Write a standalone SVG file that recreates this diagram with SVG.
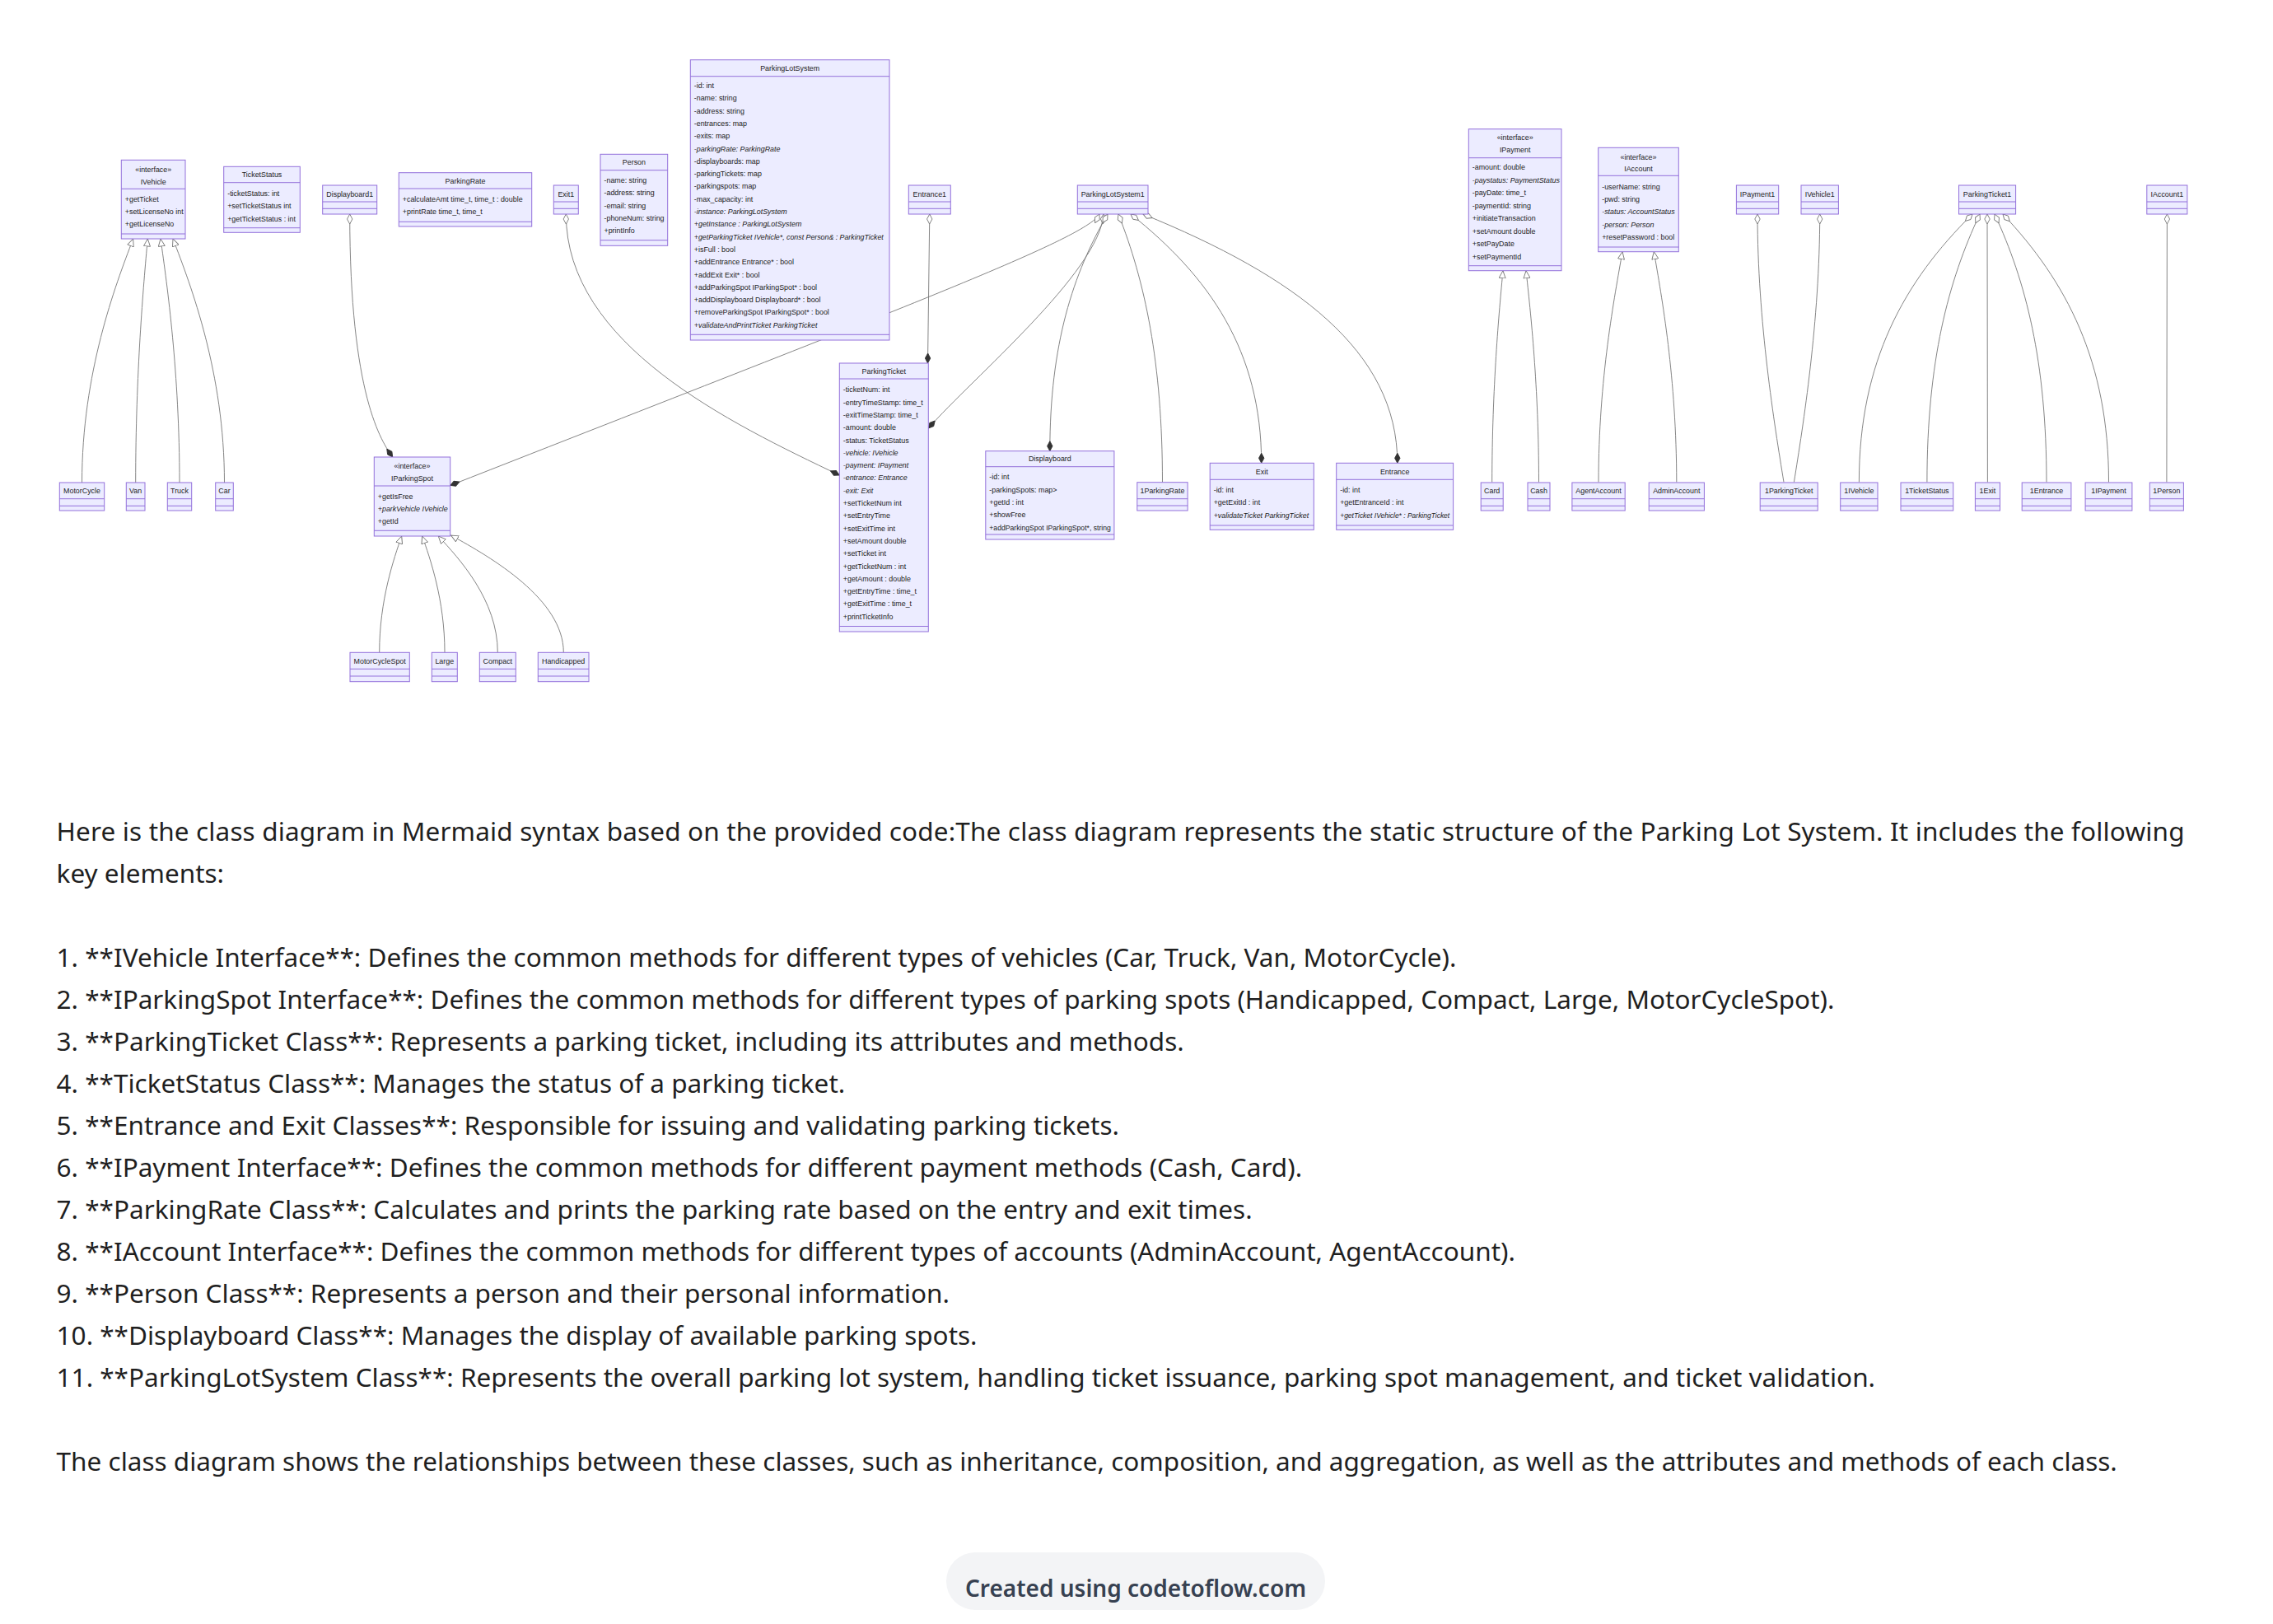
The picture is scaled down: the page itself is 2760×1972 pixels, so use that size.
<svg xmlns="http://www.w3.org/2000/svg" width="2760" height="1972" viewBox="0 0 2760 1972">
<defs>
<style>
.n rect{fill:#ECECFF;stroke:#9370DB;stroke-width:1}
.n line{stroke:#9370DB;stroke-width:1}
.n text{font-family:"Liberation Sans",Arial,sans-serif;font-size:8.9px;fill:#222;dominant-baseline:central}
.n text.c{text-anchor:middle}
.n text.it{font-style:italic}
#edges path{fill:none;stroke:#777;stroke-width:0.9}
.p{font-family:"Noto Sans","Open Sans",sans-serif;font-size:31.5px;fill:#1f1f1f}
</style>
<marker id="tri" viewBox="0 0 10 9" refX="9.5" refY="4.5" markerWidth="10" markerHeight="9" markerUnits="userSpaceOnUse" orient="auto"><path d="M0.5,0.5 L9.5,4.5 L0.5,8.5 Z" fill="#fff" stroke="#777" stroke-width="0.9"/></marker>
<marker id="odia" viewBox="0 0 13 8" refX="0.5" refY="4" markerWidth="13" markerHeight="8" markerUnits="userSpaceOnUse" orient="auto"><path d="M0.5,4 L6.5,0.8 L12.5,4 L6.5,7.2 Z" fill="#fff" stroke="#777" stroke-width="0.9"/></marker>
<marker id="fdia" viewBox="0 0 13 8" refX="12.5" refY="4" markerWidth="13" markerHeight="8" markerUnits="userSpaceOnUse" orient="auto"><path d="M0.5,4 L6.5,0.8 L12.5,4 L6.5,7.2 Z" fill="#333" stroke="#333" stroke-width="0.9"/></marker>
</defs>
<rect width="2760" height="1972" fill="#fff"/>

<g id="edges">
<path d="M99.5,586 C99.5,453 139.9,347 161.7,290" marker-end="url(#tri)"/>
<path d="M164.7,586 C164.7,453 174.2,347 179.3,290" marker-end="url(#tri)"/>
<path d="M218,586 C218,453 203.1,347 195,290" marker-end="url(#tri)"/>
<path d="M272.5,586 C272.5,453 231.9,347 210,290" marker-end="url(#tri)"/>
<path d="M460.7,792.3 C460.7,728.7 478.3,678.2 487.7,651" marker-end="url(#tri)"/>
<path d="M540,792.3 C540,728.7 522.3,678.2 512.7,651" marker-end="url(#tri)"/>
<path d="M604.3,792.3 C604.3,728.7 557.5,678.2 532.3,651" marker-end="url(#tri)"/>
<path d="M684.3,792.3 C684.3,728 597,677 547.5,650" marker-end="url(#tri)"/>
<path d="M1811.7,585.5 C1811.7,470 1820.3,378.2 1825,328.7" marker-end="url(#tri)"/>
<path d="M1868.5,585.5 C1868.5,470 1858.5,378.2 1853,328.7" marker-end="url(#tri)"/>
<path d="M1941,585.5 C1941,459.3 1960.7,359.5 1970,305.7" marker-end="url(#tri)"/>
<path d="M2035.8,585.5 C2035.8,459.3 2017.6,359.5 2008.3,305.7" marker-end="url(#tri)"/>
<path d="M424.7,260 C424.7,481 463.7,536.5 476.7,555" marker-start="url(#odia)" marker-end="url(#fdia)"/>
<path d="M687.3,260 C687.3,418.5 886.5,513.6 1019.3,577" marker-start="url(#odia)" marker-end="url(#fdia)"/>
<path d="M1128.8,260 L1126.5,441" marker-start="url(#odia)" marker-end="url(#fdia)"/>
<path d="M1335,260 C1320,290 1080,380 546.7,589.5" marker-start="url(#odia)" marker-end="url(#fdia)"/>
<path d="M1340,260 C1335,330 1180,460 1127.3,520" marker-start="url(#odia)" marker-end="url(#fdia)"/>
<path d="M1345,260 C1303,332 1274.8,418 1274.8,547.7" marker-start="url(#odia)" marker-end="url(#fdia)"/>
<path d="M1358,260 C1390,341 1411.5,439.5 1411.5,585.7" marker-start="url(#odia)"/>
<path d="M1373,260 C1468.2,335.6 1531.7,426.2 1531.7,562.3" marker-start="url(#odia)" marker-end="url(#fdia)"/>
<path d="M1388,260 C1573.3,335.6 1696.8,426.2 1696.8,562.3" marker-start="url(#odia)" marker-end="url(#fdia)"/>
<path d="M2134,260 C2134,390 2154.8,516.8 2166,585.5" marker-start="url(#odia)"/>
<path d="M2209.7,260 C2209.7,390 2189.4,516.8 2178.4,585.5" marker-start="url(#odia)"/>
<path d="M2395,260 C2312.4,341.4 2257.4,439 2257.4,585.5" marker-start="url(#odia)"/>
<path d="M2404,260 C2365.6,341.4 2339.9,439 2339.9,585.5" marker-start="url(#odia)"/>
<path d="M2413,260 L2413.4,585.5" marker-start="url(#odia)"/>
<path d="M2422,260 C2459.8,341.4 2485,439 2485,585.5" marker-start="url(#odia)"/>
<path d="M2432,260 C2509,341.4 2560.5,439 2560.5,585.5" marker-start="url(#odia)"/>
<path d="M2631.4,260 L2630.9,585.5" marker-start="url(#odia)"/>
</g>

<g id="IVehicle" class="n"><rect x="147.3" y="194.3" width="77.7" height="95.7"/><line x1="147.3" y1="229.3" x2="225" y2="229.3"/><line x1="147.3" y1="284" x2="225" y2="284"/>
<text class="c" x="186.2" y="205.7">«interface»</text><text class="c" x="186.2" y="220.7">IVehicle</text>
<text x="151.8" y="241.7">+getTicket</text><text x="151.8" y="257">+setLicenseNo int</text><text x="151.8" y="272.3">+getLicenseNo</text></g>

<g id="TicketStatus" class="n"><rect x="271.7" y="202.3" width="92.6" height="80"/><line x1="271.7" y1="221.7" x2="364.3" y2="221.7"/><line x1="271.7" y1="276.7" x2="364.3" y2="276.7"/>
<text class="c" x="318" y="212">TicketStatus</text>
<text x="276.2" y="235">-ticketStatus: int</text><text x="276.2" y="250.3">+setTicketStatus int</text><text x="276.2" y="265.6">+getTicketStatus : int</text></g>

<g id="Displayboard1" class="n"><rect x="391.7" y="225" width="66" height="35"/><line x1="391.7" y1="245" x2="457.7" y2="245"/><line x1="391.7" y1="253.3" x2="457.7" y2="253.3"/><text class="c" x="424.7" y="235.5">Displayboard1</text></g>

<g id="ParkingRate" class="n"><rect x="484.3" y="209.7" width="161.4" height="65.3"/><line x1="484.3" y1="229" x2="645.7" y2="229"/><line x1="484.3" y1="269.3" x2="645.7" y2="269.3"/>
<text class="c" x="565" y="219.5">ParkingRate</text>
<text x="488.8" y="241.7">+calculateAmt time_t, time_t : double</text><text x="488.8" y="257">+printRate time_t, time_t</text></g>

<g id="Exit1" class="n"><rect x="672.3" y="225" width="30" height="35"/><line x1="672.3" y1="245" x2="702.3" y2="245"/><line x1="672.3" y1="253.3" x2="702.3" y2="253.3"/><text class="c" x="687.3" y="235.5">Exit1</text></g>

<g id="Person" class="n"><rect x="729" y="187.3" width="81.7" height="111"/><line x1="729" y1="206.7" x2="810.7" y2="206.7"/><line x1="729" y1="291.7" x2="810.7" y2="291.7"/>
<text class="c" x="769.9" y="197.3">Person</text>
<text x="733.5" y="219">-name: string</text><text x="733.5" y="234.3">-address: string</text><text x="733.5" y="249.6">-email: string</text><text x="733.5" y="264.9">-phoneNum: string</text><text x="733.5" y="280.2">+printInfo</text></g>

<g id="ParkingLotSystem" class="n"><rect x="838.3" y="72.7" width="241.7" height="340.3"/><line x1="838.3" y1="92.7" x2="1080" y2="92.7"/><line x1="838.3" y1="406.3" x2="1080" y2="406.3"/>
<text class="c" x="959.2" y="83">ParkingLotSystem</text>
<text x="842.8" y="104">-id: int</text>
<text x="842.8" y="119.3">-name: string</text>
<text x="842.8" y="134.6">-address: string</text>
<text x="842.8" y="149.9">-entrances: map</text>
<text x="842.8" y="165.2">-exits: map</text>
<text class="it" x="842.8" y="180.5">-parkingRate: ParkingRate</text>
<text x="842.8" y="195.8">-displayboards: map</text>
<text x="842.8" y="211.1">-parkingTickets: map</text>
<text x="842.8" y="226.4">-parkingspots: map</text>
<text x="842.8" y="241.7">-max_capacity: int</text>
<text class="it" x="842.8" y="257">-instance: ParkingLotSystem</text>
<text class="it" x="842.8" y="272.3">+getInstance : ParkingLotSystem</text>
<text class="it" x="842.8" y="287.6" textLength="230" lengthAdjust="spacingAndGlyphs">+getParkingTicket IVehicle*, const Person&amp; : ParkingTicket</text>
<text x="842.8" y="302.9">+isFull : bool</text>
<text x="842.8" y="318.2">+addEntrance Entrance* : bool</text>
<text x="842.8" y="333.5">+addExit Exit* : bool</text>
<text x="842.8" y="348.8">+addParkingSpot IParkingSpot* : bool</text>
<text x="842.8" y="364.1">+addDisplayboard Displayboard* : bool</text>
<text x="842.8" y="379.4">+removeParkingSpot IParkingSpot* : bool</text>
<text class="it" x="842.8" y="394.7">+validateAndPrintTicket ParkingTicket</text></g>

<g id="Entrance1" class="n"><rect x="1103.3" y="225" width="51" height="35"/><line x1="1103.3" y1="245" x2="1154.3" y2="245"/><line x1="1103.3" y1="253.3" x2="1154.3" y2="253.3"/><text class="c" x="1128.8" y="235.5">Entrance1</text></g>

<g id="ParkingLotSystem1" class="n"><rect x="1308.3" y="225" width="85.7" height="35"/><line x1="1308.3" y1="245" x2="1394" y2="245"/><line x1="1308.3" y1="253.3" x2="1394" y2="253.3"/><text class="c" x="1351.2" y="235.5">ParkingLotSystem1</text></g>

<g id="ParkingTicket" class="n"><rect x="1019.3" y="441" width="108" height="326"/><line x1="1019.3" y1="460" x2="1127.3" y2="460"/><line x1="1019.3" y1="760.5" x2="1127.3" y2="760.5"/>
<text class="c" x="1073.3" y="451">ParkingTicket</text>
<text x="1023.8" y="473.3">-ticketNum: int</text>
<text x="1023.8" y="488.6">-entryTimeStamp: time_t</text>
<text x="1023.8" y="503.9">-exitTimeStamp: time_t</text>
<text x="1023.8" y="519.2">-amount: double</text>
<text x="1023.8" y="534.5">-status: TicketStatus</text>
<text class="it" x="1023.8" y="549.8">-vehicle: IVehicle</text>
<text class="it" x="1023.8" y="565.1">-payment: IPayment</text>
<text class="it" x="1023.8" y="580.4">-entrance: Entrance</text>
<text class="it" x="1023.8" y="595.7">-exit: Exit</text>
<text x="1023.8" y="611">+setTicketNum int</text>
<text x="1023.8" y="626.3">+setEntryTime</text>
<text x="1023.8" y="641.6">+setExitTime int</text>
<text x="1023.8" y="656.9">+setAmount double</text>
<text x="1023.8" y="672.2">+setTicket int</text>
<text x="1023.8" y="687.5">+getTicketNum : int</text>
<text x="1023.8" y="702.8">+getAmount : double</text>
<text x="1023.8" y="718.1">+getEntryTime : time_t</text>
<text x="1023.8" y="733.4">+getExitTime : time_t</text>
<text x="1023.8" y="748.7">+printTicketInfo</text></g>

<g id="Displayboard" class="n"><rect x="1196.8" y="547.7" width="156.1" height="107.3"/><line x1="1196.8" y1="566.7" x2="1352.9" y2="566.7"/><line x1="1196.8" y1="649" x2="1352.9" y2="649"/>
<text class="c" x="1274.85" y="557.3">Displayboard</text>
<text x="1201.3" y="579.3">-id: int</text><text x="1201.3" y="594.6">-parkingSpots: map&gt;</text><text x="1201.3" y="609.9">+getId : int</text><text x="1201.3" y="625.2">+showFree</text><text x="1201.3" y="640.5" textLength="147.5" lengthAdjust="spacingAndGlyphs">+addParkingSpot IParkingSpot*, string</text></g>

<g id="1ParkingRate" class="n"><rect x="1380.8" y="585.7" width="61.3" height="34.3"/><line x1="1380.8" y1="605.7" x2="1442.1" y2="605.7"/><line x1="1380.8" y1="614" x2="1442.1" y2="614"/><text class="c" x="1411.45" y="596">1ParkingRate</text></g>

<g id="Exit" class="n"><rect x="1469.2" y="562.3" width="126.1" height="81"/><line x1="1469.2" y1="582.3" x2="1595.3" y2="582.3"/><line x1="1469.2" y1="638" x2="1595.3" y2="638"/>
<text class="c" x="1532.25" y="572.5">Exit</text>
<text x="1473.7" y="595">-id: int</text><text x="1473.7" y="610.3">+getExitId : int</text><text class="it" x="1473.7" y="625.6">+validateTicket ParkingTicket</text></g>

<g id="Entrance" class="n"><rect x="1622.7" y="562.3" width="141.9" height="81"/><line x1="1622.7" y1="582.3" x2="1764.6" y2="582.3"/><line x1="1622.7" y1="638" x2="1764.6" y2="638"/>
<text class="c" x="1693.65" y="572.5">Entrance</text>
<text x="1627.2" y="595">-id: int</text><text x="1627.2" y="610.3">+getEntranceId : int</text><text class="it" x="1627.2" y="625.6" textLength="133" lengthAdjust="spacingAndGlyphs">+getTicket IVehicle* : ParkingTicket</text></g>

<g id="IParkingSpot" class="n"><rect x="454.3" y="555" width="92.4" height="96"/><line x1="454.3" y1="590" x2="546.7" y2="590"/><line x1="454.3" y1="644.3" x2="546.7" y2="644.3"/>
<text class="c" x="500.5" y="566">«interface»</text><text class="c" x="500.5" y="580.7">IParkingSpot</text>
<text x="458.8" y="602.7">+getIsFree</text><text class="it" x="458.8" y="617.9">+parkVehicle IVehicle</text><text x="458.8" y="633.1">+getId</text></g>

<g id="IPayment" class="n"><rect x="1783.3" y="156.7" width="112.7" height="172"/><line x1="1783.3" y1="191.7" x2="1896" y2="191.7"/><line x1="1783.3" y1="322.7" x2="1896" y2="322.7"/>
<text class="c" x="1839.65" y="166.7">«interface»</text><text class="c" x="1839.65" y="182.3">IPayment</text>
<text x="1787.8" y="203.3">-amount: double</text>
<text class="it" x="1787.8" y="218.8">-paystatus: PaymentStatus</text>
<text x="1787.8" y="234.3">-payDate: time_t</text>
<text x="1787.8" y="249.7">-paymentId: string</text>
<text x="1787.8" y="265.2">+initiateTransaction</text>
<text x="1787.8" y="280.7">+setAmount double</text>
<text x="1787.8" y="296.2">+setPayDate</text>
<text x="1787.8" y="311.7">+setPaymentId</text></g>

<g id="IAccount" class="n"><rect x="1940.7" y="179.3" width="97.6" height="126.4"/><line x1="1940.7" y1="213.3" x2="2038.3" y2="213.3"/><line x1="1940.7" y1="300" x2="2038.3" y2="300"/>
<text class="c" x="1989.5" y="190.7">«interface»</text><text class="c" x="1989.5" y="205">IAccount</text>
<text x="1945.2" y="226.7">-userName: string</text>
<text x="1945.2" y="241.9">-pwd: string</text>
<text class="it" x="1945.2" y="257.2">-status: AccountStatus</text>
<text class="it" x="1945.2" y="272.5">-person: Person</text>
<text x="1945.2" y="287.7">+resetPassword : bool</text></g>

<g id="IPayment1" class="n"><rect x="2108.4" y="225" width="51.3" height="35"/><line x1="2108.4" y1="245" x2="2159.7" y2="245"/><line x1="2108.4" y1="253.3" x2="2159.7" y2="253.3"/><text class="c" x="2134.05" y="235.5">IPayment1</text></g>
<g id="IVehicle1" class="n"><rect x="2187" y="225" width="45.4" height="35"/><line x1="2187" y1="245" x2="2232.4" y2="245"/><line x1="2187" y1="253.3" x2="2232.4" y2="253.3"/><text class="c" x="2209.7" y="235.5">IVehicle1</text></g>
<g id="ParkingTicket1" class="n"><rect x="2378.5" y="225" width="69.1" height="35"/><line x1="2378.5" y1="245" x2="2447.6" y2="245"/><line x1="2378.5" y1="253.3" x2="2447.6" y2="253.3"/><text class="c" x="2413.05" y="235.5">ParkingTicket1</text></g>
<g id="IAccount1" class="n"><rect x="2606.8" y="225" width="49.1" height="35"/><line x1="2606.8" y1="245" x2="2655.9" y2="245"/><line x1="2606.8" y1="253.3" x2="2655.9" y2="253.3"/><text class="c" x="2631.35" y="235.5">IAccount1</text></g>

<g id="MotorCycle" class="n"><rect x="72.3" y="586" width="54.4" height="34"/><line x1="72.3" y1="605.7" x2="126.7" y2="605.7"/><line x1="72.3" y1="614.3" x2="126.7" y2="614.3"/><text class="c" x="99.5" y="596">MotorCycle</text></g>
<g id="Van" class="n"><rect x="153.3" y="586" width="22.7" height="34"/><line x1="153.3" y1="605.7" x2="176" y2="605.7"/><line x1="153.3" y1="614.3" x2="176" y2="614.3"/><text class="c" x="164.65" y="596">Van</text></g>
<g id="Truck" class="n"><rect x="203.3" y="586" width="29.4" height="34"/><line x1="203.3" y1="605.7" x2="232.7" y2="605.7"/><line x1="203.3" y1="614.3" x2="232.7" y2="614.3"/><text class="c" x="218" y="596">Truck</text></g>
<g id="Car" class="n"><rect x="261.7" y="586" width="21.6" height="34"/><line x1="261.7" y1="605.7" x2="283.3" y2="605.7"/><line x1="261.7" y1="614.3" x2="283.3" y2="614.3"/><text class="c" x="272.5" y="596">Car</text></g>
<g id="Card" class="n"><rect x="1798.2" y="586" width="27" height="34"/><line x1="1798.2" y1="605.7" x2="1825.2" y2="605.7"/><line x1="1798.2" y1="614.3" x2="1825.2" y2="614.3"/><text class="c" x="1811.7" y="596">Card</text></g>
<g id="Cash" class="n"><rect x="1855" y="586" width="27" height="34"/><line x1="1855" y1="605.7" x2="1882" y2="605.7"/><line x1="1855" y1="614.3" x2="1882" y2="614.3"/><text class="c" x="1868.5" y="596">Cash</text></g>
<g id="AgentAccount" class="n"><rect x="1908.9" y="586" width="64.3" height="34"/><line x1="1908.9" y1="605.7" x2="1973.2" y2="605.7"/><line x1="1908.9" y1="614.3" x2="1973.2" y2="614.3"/><text class="c" x="1941" y="596">AgentAccount</text></g>
<g id="AdminAccount" class="n"><rect x="2002.2" y="586" width="67.2" height="34"/><line x1="2002.2" y1="605.7" x2="2069.4" y2="605.7"/><line x1="2002.2" y1="614.3" x2="2069.4" y2="614.3"/><text class="c" x="2035.8" y="596">AdminAccount</text></g>
<g id="1ParkingTicket" class="n"><rect x="2137.2" y="586" width="70" height="34"/><line x1="2137.2" y1="605.7" x2="2207.2" y2="605.7"/><line x1="2137.2" y1="614.3" x2="2207.2" y2="614.3"/><text class="c" x="2172.2" y="596">1ParkingTicket</text></g>
<g id="1IVehicle" class="n"><rect x="2234.7" y="586" width="45.3" height="34"/><line x1="2234.7" y1="605.7" x2="2280" y2="605.7"/><line x1="2234.7" y1="614.3" x2="2280" y2="614.3"/><text class="c" x="2257.35" y="596">1IVehicle</text></g>
<g id="1TicketStatus" class="n"><rect x="2308" y="586" width="63.7" height="34"/><line x1="2308" y1="605.7" x2="2371.7" y2="605.7"/><line x1="2308" y1="614.3" x2="2371.7" y2="614.3"/><text class="c" x="2339.85" y="596">1TicketStatus</text></g>
<g id="1Exit" class="n"><rect x="2398.4" y="586" width="30.1" height="34"/><line x1="2398.4" y1="605.7" x2="2428.5" y2="605.7"/><line x1="2398.4" y1="614.3" x2="2428.5" y2="614.3"/><text class="c" x="2413.45" y="596">1Exit</text></g>
<g id="1Entrance" class="n"><rect x="2455.2" y="586" width="59.7" height="34"/><line x1="2455.2" y1="605.7" x2="2514.9" y2="605.7"/><line x1="2455.2" y1="614.3" x2="2514.9" y2="614.3"/><text class="c" x="2485.05" y="596">1Entrance</text></g>
<g id="1IPayment" class="n"><rect x="2532.1" y="586" width="56.8" height="34"/><line x1="2532.1" y1="605.7" x2="2588.9" y2="605.7"/><line x1="2532.1" y1="614.3" x2="2588.9" y2="614.3"/><text class="c" x="2560.5" y="596">1IPayment</text></g>
<g id="1Person" class="n"><rect x="2610.3" y="586" width="41.1" height="34"/><line x1="2610.3" y1="605.7" x2="2651.4" y2="605.7"/><line x1="2610.3" y1="614.3" x2="2651.4" y2="614.3"/><text class="c" x="2630.85" y="596">1Person</text></g>

<g id="MotorCycleSpot" class="n"><rect x="425" y="792.3" width="72.3" height="35.4"/><line x1="425" y1="812.3" x2="497.3" y2="812.3"/><line x1="425" y1="821" x2="497.3" y2="821"/><text class="c" x="461.15" y="802.7">MotorCycleSpot</text></g>
<g id="Large" class="n"><rect x="524.3" y="792.3" width="31" height="35.4"/><line x1="524.3" y1="812.3" x2="555.3" y2="812.3"/><line x1="524.3" y1="821" x2="555.3" y2="821"/><text class="c" x="539.8" y="802.7">Large</text></g>
<g id="Compact" class="n"><rect x="582.3" y="792.3" width="44" height="35.4"/><line x1="582.3" y1="812.3" x2="626.3" y2="812.3"/><line x1="582.3" y1="821" x2="626.3" y2="821"/><text class="c" x="604.3" y="802.7">Compact</text></g>
<g id="Handicapped" class="n"><rect x="653.3" y="792.3" width="61.7" height="35.4"/><line x1="653.3" y1="812.3" x2="715" y2="812.3"/><line x1="653.3" y1="821" x2="715" y2="821"/><text class="c" x="684.15" y="802.7">Handicapped</text></g>

<g id="description">
<text class="p" x="68.6" y="1021" textLength="2584">Here is the class diagram in Mermaid syntax based on the provided code:The class diagram represents the static structure of the Parking Lot System. It includes the following</text>
<text class="p" x="68.6" y="1072">key elements:</text>
<text class="p" x="68.6" y="1174">1. **IVehicle Interface**: Defines the common methods for different types of vehicles (Car, Truck, Van, MotorCycle).</text>
<text class="p" x="68.6" y="1225">2. **IParkingSpot Interface**: Defines the common methods for different types of parking spots (Handicapped, Compact, Large, MotorCycleSpot).</text>
<text class="p" x="68.6" y="1276">3. **ParkingTicket Class**: Represents a parking ticket, including its attributes and methods.</text>
<text class="p" x="68.6" y="1327">4. **TicketStatus Class**: Manages the status of a parking ticket.</text>
<text class="p" x="68.6" y="1378">5. **Entrance and Exit Classes**: Responsible for issuing and validating parking tickets.</text>
<text class="p" x="68.6" y="1429">6. **IPayment Interface**: Defines the common methods for different payment methods (Cash, Card).</text>
<text class="p" x="68.6" y="1480">7. **ParkingRate Class**: Calculates and prints the parking rate based on the entry and exit times.</text>
<text class="p" x="68.6" y="1531">8. **IAccount Interface**: Defines the common methods for different types of accounts (AdminAccount, AgentAccount).</text>
<text class="p" x="68.6" y="1582">9. **Person Class**: Represents a person and their personal information.</text>
<text class="p" x="68.6" y="1633">10. **Displayboard Class**: Manages the display of available parking spots.</text>
<text class="p" x="68.6" y="1684">11. **ParkingLotSystem Class**: Represents the overall parking lot system, handling ticket issuance, parking spot management, and ticket validation.</text>
<text class="p" x="68.6" y="1786">The class diagram shows the relationships between these classes, such as inheritance, composition, and aggregation, as well as the attributes and methods of each class.</text>
</g>

<g id="footer">
<rect x="1149" y="1885" width="460" height="70" rx="35" fill="#f3f4f6"/>
<text x="1379" y="1939" text-anchor="middle" font-family="Noto Sans, Open Sans, sans-serif" font-size="28" font-weight="600" fill="#374151">Created using codetoflow.com</text>
</g>
</svg>
